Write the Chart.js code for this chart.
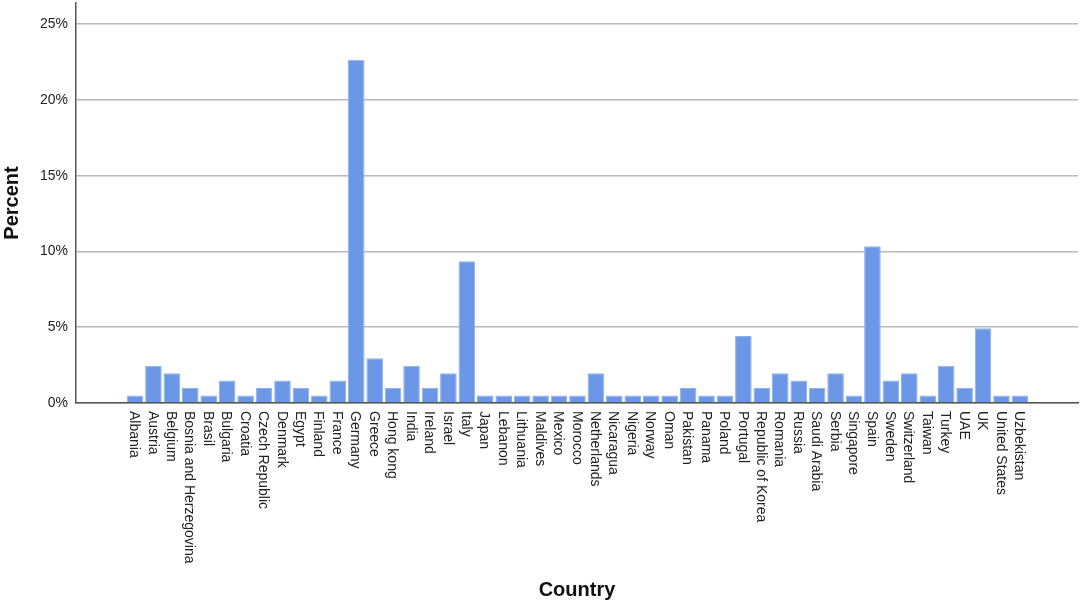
<!DOCTYPE html>
<html>
<head>
<meta charset="utf-8">
<title>Percent by country</title>
<script src="https://cdn.jsdelivr.net/npm/chart.js@4.4.1/dist/chart.umd.min.js"></script>
<style>
    body { margin: 0; background: #fff; }
    canvas { display: block; }
</style>
</head>
<body>
<canvas id="barGraph" width="1084" height="605"></canvas>
<script>
const countries = [
    "Albania", "Austria", "Belgium", "Bosnia and Herzegovina", "Brasil",
    "Bulgaria", "Croatia", "Czech Republic", "Denmark", "Egypt",
    "Finland", "France", "Germany", "Greece", "Hong kong",
    "India", "Ireland", "Israel", "Italy", "Japan",
    "Lebanon", "Lithuania", "Maldives", "Mexico", "Morocco",
    "Netherlands", "Nicaragua", "Nigeria", "Norway", "Oman",
    "Pakistan", "Panama", "Poland", "Portugal", "Republic of Korea",
    "Romania", "Russia", "Saudi Arabia", "Serbia", "Singapore",
    "Spain", "Sweden", "Switzerland", "Taiwan", "Turkey",
    "UAE", "UK", "United States", "Uzbekistan"
];

// percent of respondents per country
const percents = [
    0.49, 2.46, 1.97, 0.99, 0.49,
    1.48, 0.49, 0.99, 1.48, 0.99,
    0.49, 1.48, 22.66, 2.96, 0.99,
    2.46, 0.99, 1.97, 9.36, 0.49,
    0.49, 0.49, 0.49, 0.49, 0.49,
    1.97, 0.49, 0.49, 0.49, 0.49,
    0.99, 0.49, 0.49, 4.43, 0.99,
    1.97, 1.48, 0.99, 1.97, 0.49,
    10.34, 1.48, 1.97, 0.49, 2.46,
    0.99, 4.93, 0.49, 0.49
];

const yTicks = [0, 5, 10, 15, 20, 25];

const fontFamily = "'Liberation Sans', Arial, sans-serif";

// draws the country names rotated clockwise under each bar
const countryLabels = {
    id: 'countryLabels',
    afterDraw(chart) {
        const ctx = chart.ctx;
        const xScale = chart.scales.x;
        const top = chart.chartArea.bottom + 8;
        ctx.save();
        ctx.fillStyle = '#222';
        ctx.font = '14px ' + fontFamily;
        ctx.textAlign = 'left';
        ctx.textBaseline = 'middle';
        countries.forEach((name, i) => {
            const x = xScale.getPixelForValue(i);
            ctx.save();
            ctx.translate(x - 1, top);
            ctx.rotate(Math.PI / 2);
            ctx.fillText(name, 0, 0);
            ctx.restore();
        });
        ctx.restore();
    }
};

document.addEventListener('DOMContentLoaded', () => {
    const ctx = document.getElementById("barGraph").getContext("2d");
    const data = {
        datasets: [{
            label: 'Percent',
            data: percents.map((v, i) => ({ x: i, y: v })),
            backgroundColor: '#6b97e6',
            borderColor: '#8fb1ee',
            borderWidth: 1,
            categoryPercentage: 1,
            barPercentage: 0.9
        }]
    };
    const config = {
        type: 'bar',
        data: data,
        options: {
            responsive: false,
            animation: false,
            layout: { padding: { top: 3, right: 6, left: 0, bottom: 0 } },
            plugins: {
                legend: { display: false },
                tooltip: { enabled: false }
            },
            scales: {
                x: {
                    type: 'linear',
                    min: -3.2,
                    max: countries.length - 1 + 3.15,
                    offset: false,
                    grid: { display: false },
                    border: { color: '#555', width: 1.5 },
                    ticks: { display: false },
                    title: {
                        display: true,
                        text: 'Country',
                        color: '#111',
                        font: { family: fontFamily, size: 20, weight: 'bold' },
                        padding: { top: 0, bottom: 3 }
                    },
                    afterFit: (scale) => { scale.height = 202; }
                },
                y: {
                    min: 0,
                    max: 26.4,
                    afterBuildTicks: (scale) => {
                        scale.ticks = yTicks.map(v => ({ value: v }));
                    },
                    ticks: {
                        color: '#222',
                        padding: 8,
                        font: { family: fontFamily, size: 14 },
                        callback: (v) => v + '%'
                    },
                    grid: {
                        color: '#b8b8b8',
                        lineWidth: 1.5,
                        drawTicks: false
                    },
                    border: { color: '#555', width: 1.5 },
                    title: {
                        display: true,
                        text: 'Percent',
                        color: '#111',
                        font: { family: fontFamily, size: 20, weight: 'bold' },
                        padding: 0
                    },
                    afterFit: (scale) => {
                        scale.width = 76;
                        scale.paddingTop = 0;
                        scale.paddingBottom = 0;
                    }
                }
            }
        },
        plugins: [countryLabels]
    };
    new Chart(ctx, config);
});
</script>
</body>
</html>
